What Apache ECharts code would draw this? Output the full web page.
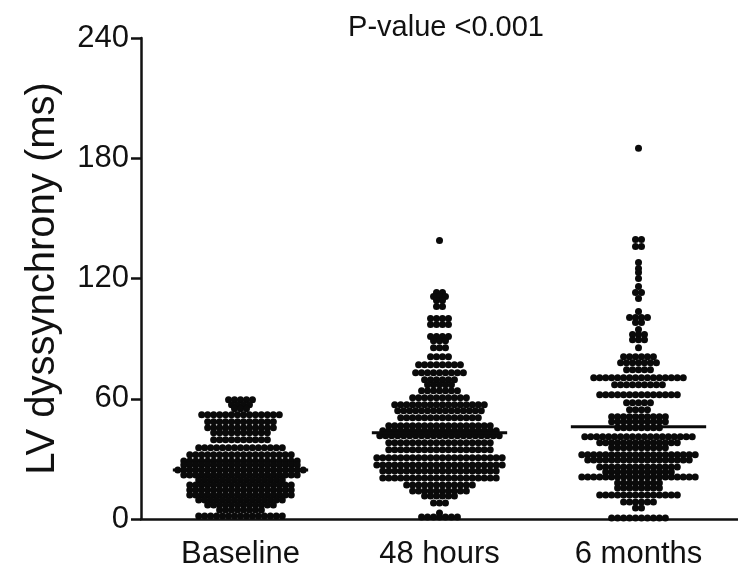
<!DOCTYPE html>
<html>
<head>
<meta charset="utf-8">
<title>LV dyssynchrony</title>
<script src="https://cdn.jsdelivr.net/npm/echarts@6/dist/echarts.min.js"></script>
<style>
  html, body { margin: 0; padding: 0; background: #fff; }
  #chart { width: 738px; height: 573px; }
</style>
</head>
<body>
<div id="chart"></div>
<script>
// groups on the x axis
var categories = ["Baseline", "48 hours", "6 months"];
var yTicks = [0, 60, 120, 180, 240];

// each group is stored as rows of the swarm: row value (ms) and number of dots in that row
var baselineValues = [59.5, 57, 55, 52, 48.5, 45.5, 43, 39.5, 35.5, 32, 29, 27, 24.5, 22, 19.5, 17, 14.5, 12, 9.5, 7, 4.5, 1.5];
var baselineCounts = [5, 4, 3, 14, 12, 12, 10, 10, 15, 18, 20, 20, 22, 20, 15, 18, 18, 18, 15, 12, 8, 15];

var hours48Values = [139, 113, 111, 109, 106, 100, 97, 91, 89, 85.5, 81, 77, 73, 69.5, 67, 64, 60.5, 57, 54, 50.5, 46.5, 44, 41.5, 38, 34.5, 30.5, 27, 24, 20.5, 17, 14, 11.5, 8, 3, 1];
var hours48Counts = [1, 2, 3, 2, 2, 4, 4, 4, 3, 3, 4, 8, 9, 6, 5, 7, 10, 16, 15, 14, 18, 20, 21, 18, 18, 22, 22, 20, 20, 12, 10, 6, 3, 1, 7];

var months6Values = [185, 139.5, 136, 128, 125, 123, 120, 116, 113, 110, 103.5, 100.5, 98, 94.5, 92, 89.5, 85.5, 81, 78, 74.5, 70.5, 67, 62, 58, 54.5, 51, 48.5, 45.5, 41, 38, 35.5, 32, 29.5, 26, 23.5, 21, 18, 15.5, 12, 8.5, 5.5, 0.5];
var months6Counts = [1, 2, 2, 1, 1, 1, 1, 1, 2, 1, 1, 4, 2, 1, 3, 3, 1, 6, 7, 5, 16, 9, 14, 5, 4, 10, 10, 8, 19, 14, 10, 20, 18, 14, 12, 20, 8, 8, 14, 6, 2, 10];

// median bars
var medians = [24.5, 43, 46];

var groups = [
  { values: baselineValues, counts: baselineCounts },
  { values: hours48Values, counts: hours48Counts },
  { values: months6Values, counts: months6Counts }
];

var DOT_STEP = 0.03;     // horizontal dot spacing, in category units
var MEDIAN_HALF = 0.34;  // half width of the median bar

// swarm layout: spread each row around the group centre
var points = [];
groups.forEach(function (g, gi) {
  for (var r = 0; r < g.values.length; r++) {
    var n = g.counts[r];
    for (var j = 0; j < n; j++) {
      points.push([gi + (j - (n - 1) / 2) * DOT_STEP, g.values[r]]);
    }
  }
});

var tickFont = "'Liberation Sans', Arial, sans-serif";

var chart = echarts.init(document.getElementById("chart"), null, { renderer: "canvas" });

chart.setOption({
  animation: false,
  backgroundColor: "#fff",
  title: {
    text: "P-value <0.001",
    left: 441,
    top: 8,
    textAlign: "center",
    textStyle: { fontFamily: tickFont, fontSize: 29, fontWeight: "normal", color: "#111" }
  },
  grid: { left: 141, top: 38, width: 600, height: 481, containLabel: false },
  xAxis: [
    {
      type: "category",
      data: categories,
      boundaryGap: true,
      axisLine: { onZero: false, lineStyle: { color: "#111", width: 2.5 } },
      axisTick: { alignWithLabel: true, length: 12, lineStyle: { color: "#111", width: 2.5 } },
      axisLabel: { margin: 20, fontFamily: tickFont, fontSize: 31, color: "#111" },
      splitLine: { show: false }
    },
    {
      type: "value",
      min: -0.5,
      max: 2.5,
      show: false
    }
  ],
  yAxis: {
    type: "value",
    min: 0,
    max: 240,
    interval: 60,
    name: "LV dyssynchrony (ms)",
    nameLocation: "middle",
    nameGap: 78,
    nameTextStyle: { fontFamily: "'Liberation Sans', Arial, sans-serif", fontSize: 40, color: "#111" },
    axisLine: { show: true, onZero: false, lineStyle: { color: "#111", width: 2.5 } },
    axisTick: { show: true, length: 10, lineStyle: { color: "#111", width: 2.5 } },
    axisLabel: {
      margin: 12,
      fontFamily: tickFont,
      fontSize: 31,
      color: "#111",
      formatter: function (v) { return yTicks.indexOf(v) >= 0 ? String(v) : ""; }
    },
    splitLine: { show: false }
  },
  series: [
    {
      type: "scatter",
      xAxisIndex: 1,
      data: points,
      symbol: "circle",
      symbolSize: 7,
      itemStyle: { color: "#0a0a0a", opacity: 1 },
      silent: true,
      z: 3
    },
    {
      type: "custom",
      xAxisIndex: 1,
      data: medians.map(function (m, i) { return [i, m]; }),
      renderItem: function (params, api) {
        var i = api.value(0), m = api.value(1);
        var a = api.coord([i - MEDIAN_HALF, m]);
        var b = api.coord([i + MEDIAN_HALF, m]);
        return {
          type: "line",
          shape: { x1: a[0], y1: a[1], x2: b[0], y2: b[1] },
          style: { stroke: "#0a0a0a", lineWidth: 3 }
        };
      },
      silent: true,
      z: 4
    }
  ]
});
</script>
</body>
</html>
